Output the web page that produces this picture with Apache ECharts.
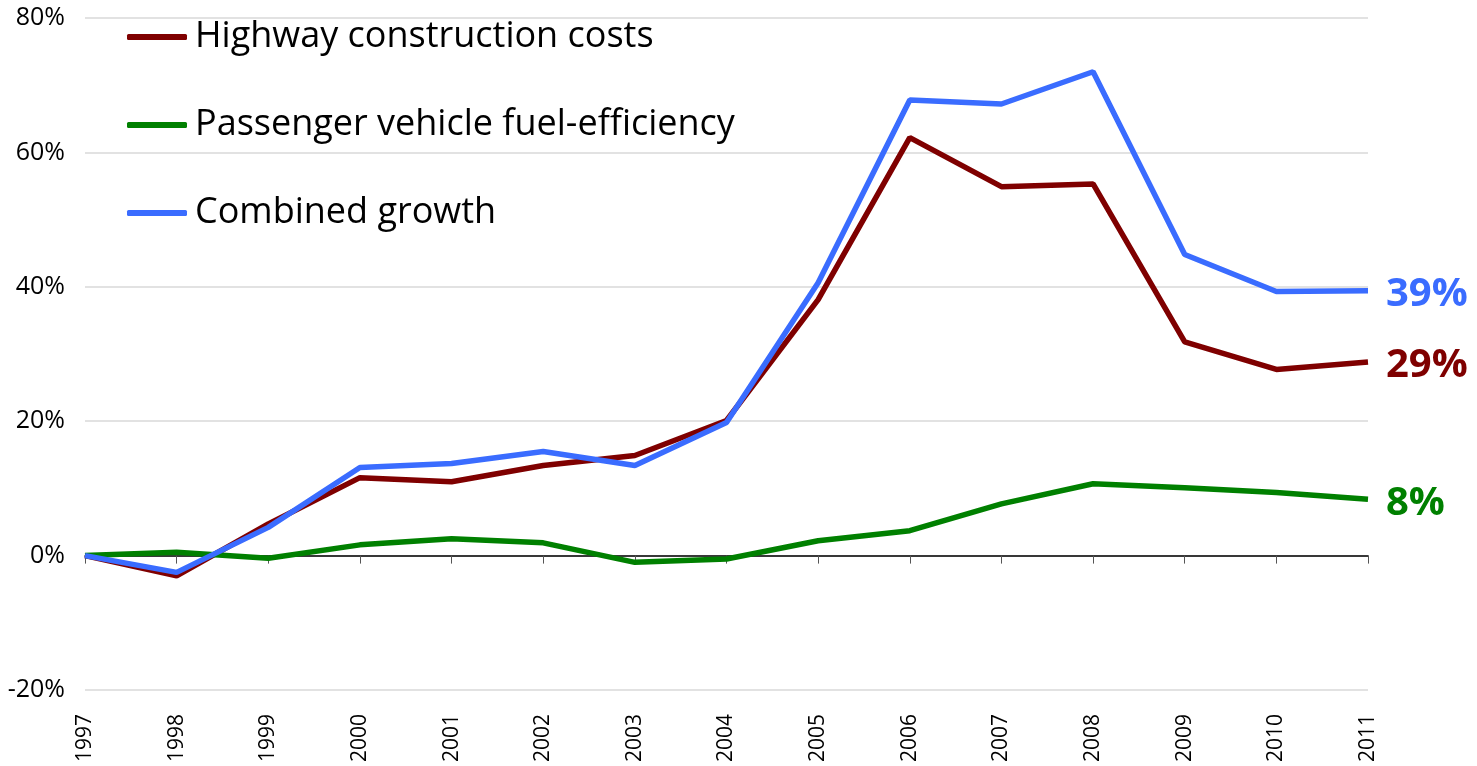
<!DOCTYPE html>
<html lang="en">
<head>
    <meta charset="UTF-8">
    <title>Highway construction costs vs fuel-efficiency</title>
    <script type="text/javascript" src="https://cdn.jsdelivr.net/npm/echarts@6/dist/echarts.min.js"></script>
    <style>
        html, body { margin: 0; padding: 0; background: #fff; }
        #main { width: 1477px; height: 766px; }
    </style>
</head>
<body>

<div id="main"></div>

<script type="text/javascript">
    // years on the x axis
    var years = ["1997","1998","1999","2000","2001","2002","2003","2004","2005","2006","2007","2008","2009","2010","2011"];
    // cumulative growth since 1997, in %
    var highway = [0, -3.0, 4.7, 11.6, 11.0, 13.4, 14.9, 20.1, 38.1, 62.2, 54.9, 55.3, 31.8, 27.7, 28.8];
    var fuel = [0, 0.5, -0.4, 1.6, 2.5, 1.9, -1.0, -0.5, 2.2, 3.7, 7.7, 10.7, 10.1, 9.4, 8.4];
    var combined = [0, -2.5, 4.2, 13.1, 13.7, 15.5, 13.4, 19.8, 40.6, 67.8, 67.2, 72.0, 44.8, 39.3, 39.4];
    var yTicks = [-20, 0, 20, 40, 60, 80];

    var fontName = "Open Sans";

    function endLabel(color) {
        return {
            show: true,
            distance: 18,
            offset: [0, 4],
            color: color,
            fontFamily: fontName,
            fontSize: 40,
            fontWeight: "bold",
            formatter: function (p) { return Math.round(p.value) + "%"; }
        };
    }

    function lineSeries(name, data, color) {
        return {
            name: name,
            type: "line",
            data: data,
            showSymbol: false,
            symbol: "none",
            color: color,
            lineStyle: { width: 5.5, color: color },
            endLabel: endLabel(color),
            animation: false
        };
    }

    var option = {
        backgroundColor: "#ffffff",
        grid: { left: 85, right: 109, top: 18, bottom: 76, containLabel: false },
        legend: {
            orient: "vertical",
            left: 122,
            top: 12,
            icon: "roundRect",
            itemWidth: 60,
            itemHeight: 6,
            itemGap: 48,
            textStyle: { fontFamily: fontName, fontSize: 36, lineHeight: 40, color: "#000", padding: [0, 0, 0, 3] },
            data: ["Highway construction costs", "Passenger vehicle fuel-efficiency", "Combined growth"]
        },
        xAxis: [
            {
                type: "category",
                data: years,
                boundaryGap: false,
                position: "bottom",
                axisLine: { show: false, onZero: false },
                axisTick: { show: false },
                axisLabel: { rotate: 90, margin: 24, fontFamily: fontName, fontSize: 21, color: "#000" }
            },
            {
                type: "category",
                data: years,
                boundaryGap: false,
                position: "top",
                axisLine: { show: true, onZero: true, lineStyle: { color: "#000", width: 1.5 } },
                axisTick: { show: true, inside: true, length: 8, lineStyle: { color: "#555" } },
                axisLabel: { show: false }
            }
        ],
        yAxis: {
            type: "value",
            min: yTicks[0],
            max: yTicks[yTicks.length - 1],
            interval: 20,
            axisLine: { show: false },
            axisTick: { show: false },
            splitLine: { lineStyle: { color: "#d9d9d9", width: 1.5 } },
            axisLabel: { margin: 20, fontFamily: fontName, fontSize: 25, color: "#000", formatter: "{value}%" }
        },
        series: [
            lineSeries("Highway construction costs", highway, "#7f0000"),
            lineSeries("Passenger vehicle fuel-efficiency", fuel, "#008000"),
            lineSeries("Combined growth", combined, "#3a6cff")
        ]
    };

    var myChart = echarts.init(document.getElementById("main"));
    myChart.setOption(option);
</script>
</body>
</html>
